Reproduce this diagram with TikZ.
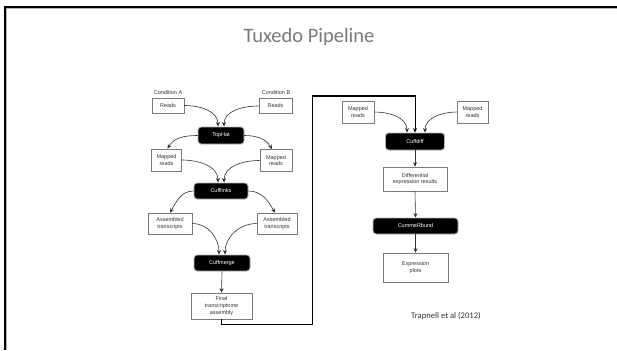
\documentclass[tikz,border=0pt]{standalone}
\usepackage{fontspec}
\setmainfont{Liberation Sans}
\newfontfamily\titlefont{Carlito}
\usetikzlibrary{arrows.meta}
\definecolor{linegray}{HTML}{333333}
\definecolor{boxgray}{HTML}{7A7A7A}
\definecolor{titlegray}{HTML}{7A7A7A}
\tikzset{
  wbox/.style={draw=boxgray, line width=0.6pt, fill=white, inner sep=0pt, align=center,
    font=\fontsize{5.5}{6.8}\selectfont, text=black!80},
  bbox/.style={draw=gray!55, line width=0.9pt, fill=black, rounded corners=3pt, inner sep=0pt,
    align=center, font=\fontsize{5.5}{6.8}\selectfont, text=white},
  lbl/.style={inner sep=0pt, font=\fontsize{5.5}{6.8}\selectfont, text=black!80},
  arr/.style={draw=linegray, line width=0.6pt, -{Stealth[length=4.5pt,width=4pt]}},
  link/.style={draw=black, line width=1pt, -{Stealth[length=4.5pt,width=4pt]}}
}
\begin{document}
\begin{tikzpicture}[x=1pt,y=-1pt]
\useasboundingbox (0,0) rectangle (617,350);
\fill[white] (0,0) rectangle (617,350);
% slide frame
\draw[gray!60, line width=0.8pt] (6.5,350) -- (6.5,8.8) -- (617,8.8);
\draw[black, line width=2pt] (5,350) -- (5,7) -- (617,7);
% title
\node[inner sep=0pt, text=titlegray, font=\titlefont\fontsize{20.5}{24}\selectfont] (title) at (309,37) {Tuxedo Pipeline};
% left column
\node[lbl] (condA) at (168,93) {Condition A};
\node[lbl] (condB) at (276,93) {Condition B};
\node[wbox, minimum width=32pt, minimum height=15pt] (readsA) at (168,105.5) {Reads};
\node[wbox, minimum width=33pt, minimum height=15pt] (readsB) at (275.5,106) {Reads};
\node[bbox, minimum width=46pt, minimum height=17pt] (tophat) at (221,135.5) {TopHat};
\node[wbox, minimum width=30pt, minimum height=22pt] (mapA) at (166.5,160) {Mapped\\reads};
\node[wbox, minimum width=32pt, minimum height=22pt] (mapB) at (276,160.5) {Mapped\\reads};
\node[bbox, minimum width=54pt, minimum height=16pt] (cufflinks) at (221,191) {Cufflinks};
\node[wbox, minimum width=44pt, minimum height=21pt] (asmA) at (170,223.5) {Assembled\\transcripts};
\node[wbox, minimum width=40pt, minimum height=21pt] (asmB) at (277,223.5) {Assembled\\transcripts};
\node[bbox, minimum width=56pt, minimum height=16pt] (cuffmerge) at (222,263) {Cuffmerge};
\node[wbox, minimum width=61pt, minimum height=26pt] (final) at (221.5,306) {Final\\transcriptome\\assembly};
% right column
\node[wbox, minimum width=32pt, minimum height=22pt] (mapC) at (358,112) {Mapped\\reads};
\node[wbox, minimum width=31pt, minimum height=22pt] (mapD) at (472.5,112) {Mapped\\reads};
\node[bbox, minimum width=59pt, minimum height=17pt] (cuffdiff) at (415,141.5) {Cuffdiff};
\node[wbox, minimum width=64pt, minimum height=24pt] (diff) at (415,179) {Differential\\expression results};
\node[bbox, minimum width=85pt, minimum height=16pt] (cummerbund) at (415.5,226) {CummeRbund};
\node[wbox, minimum width=65pt, minimum height=29pt] (plots) at (415.5,267.5) {Expression\\plots};
\node[inner sep=0pt, text=black!80, font=\titlefont\fontsize{8.6}{10}\selectfont] (cite) at (446,316) {Trapnell et al (2012)};
% left connectors
\draw[arr] (readsA.east) to[out=0,in=90] ([xshift=-3pt]tophat.north);
\draw[arr] (readsB.west) to[out=180,in=90] ([xshift=3pt]tophat.north);
\draw[arr] (tophat.west) to[out=180,in=60] ([xshift=1pt]mapA.north);
\draw[arr] (tophat.east) to[out=0,in=120] ([xshift=-4pt]mapB.north);
\draw[arr] (mapA.east) to[out=0,in=90] ([xshift=-3pt]cufflinks.north);
\draw[arr] (mapB.west) to[out=180,in=90] ([xshift=3pt]cufflinks.north);
\draw[arr] (cufflinks.west) to[out=180,in=60] (asmA.north);
\draw[arr] (cufflinks.east) to[out=0,in=120] ([xshift=-2pt]asmB.north);
\draw[arr] (asmA.east) to[out=0,in=90] ([xshift=-3pt]cuffmerge.north);
\draw[arr] (asmB.west) to[out=180,in=90] ([xshift=3pt]cuffmerge.north);
\draw[arr] (cuffmerge.south) -- (final.north);
% link between columns
\coordinate (bend1) at (312,324.5);
\coordinate (bend2) at (312,96);
\draw[link] (final.south) |- (bend1) -- (bend2) -| (cuffdiff.north);
% right connectors
\draw[arr] (mapC.east) to[out=0,in=90] ([xshift=-8pt]cuffdiff.north);
\draw[arr] (mapD.west) to[out=180,in=90] ([xshift=10pt]cuffdiff.north);
\draw[arr] (cuffdiff.south) -- (diff.north);
\draw[arr] (diff.south) -- (cummerbund.north);
\draw[arr] (cummerbund.south) -- (plots.north);
\end{tikzpicture}
\end{document}
